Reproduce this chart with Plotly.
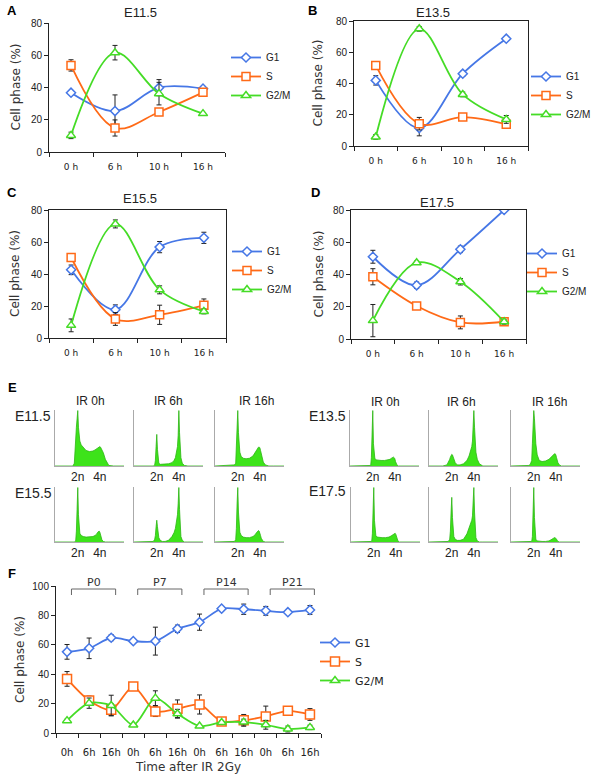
import plotly.graph_objects as go

W, H = 600, 778

# ---------------- data ----------------
TIMES = ['0 h', '6 h', '10 h', '16 h']
PHASES = ['G1', 'S', 'G2/M']

A_G1 = [36.8, 25.4, 39.9, 39.3]
A_G1_ERR = [0, 10, 5, 0]
A_S = [53.7, 14.9, 24.8, 37.0]
A_S_ERR = [3.5, 5, 0, 0]
A_G2M = [10.3, 61.6, 36.2, 23.8]
A_G2M_ERR = [2, 4.5, 7, 0]

B_G1 = [42.0, 11.5, 46.3, 68.7]
B_G1_ERR = [3, 5, 1.5, 1]
B_S = [51.6, 14.3, 18.5, 13.9]
B_S_ERR = [2, 4, 1, 2]
B_G2M = [5.8, 75.0, 33.0, 17.0]
B_G2M_ERR = [1.5, 1.5, 1.5, 2.5]

C_G1 = [42.6, 17.7, 56.8, 62.6]
C_G1_ERR = [3, 3, 3.5, 3.5]
C_S = [50.3, 11.9, 14.5, 20.4]
C_S_ERR = [1.5, 4, 6, 4]
C_G2M = [7.9, 71.3, 30.1, 16.6]
C_G2M_ERR = [4, 2.5, 2.5, 1.5]

D_G1 = [51.0, 33.3, 55.6, 80.0]
D_G1_ERR = [4, 2, 2, 1]
D_S = [38.6, 20.5, 10.3, 10.7]
D_S_ERR = [5, 1, 4, 1]
D_G2M = [11.4, 47.3, 35.5, 10.7]
D_G2M_ERR = [10, 1, 2, 1.5]

# panel F
F_GROUPS = ['P0', 'P7', 'P14', 'P21']
F_TIMES = ['0h', '6h', '16h']
F_G1 = [55.2, 57.6, 64.8, 62.5, 62.5, 70.9, 75.4, 84.6, 84.2, 83.1, 82.2, 83.7]
F_G1_ERR = [5, 7, 2, 1, 9.5, 2.5, 5.5, 1, 3.5, 3, 1, 3]
F_S = [36.8, 22.1, 15.8, 31.6, 14.7, 16.5, 19.4, 7.9, 8.6, 11.3, 15.1, 12.6]
F_S_ERR = [5, 3, 4, 1, 3.5, 6, 6.5, 1, 4, 7, 1, 4]
F_G2M = [8.4, 20.3, 18.7, 5.4, 23.7, 13.1, 4.7, 7.2, 7.4, 5.6, 2.7, 3.8]
F_G2M_ERR = [1, 3.5, 7, 1, 5, 3, 1, 1, 2, 3, 2, 1.5]

# panel E: DNA-content histograms (channel, relative count)
CH = [0, 20, 26, 28, 30, 31, 32, 33, 34, 35, 36, 38, 41, 45, 50, 55, 58, 60,
      62, 63, 64, 65, 66, 67, 68, 70, 73, 78, 85, 100]
HIST_E11_0 = [0, 0, 0, 5, 66, 70, 85, 100, 70, 52, 45, 38, 33, 28, 26, 27, 29, 31,
              33, 34, 35, 35, 34, 32, 30, 24, 12, 1, 0, 0]
HIST_E11_6 = [0, 0, 0, 0, 2, 10, 35, 57, 30, 10, 5, 3, 3, 3, 4, 6, 10, 15,
              25, 35, 55, 100, 60, 30, 15, 5, 1, 0, 0, 0]
HIST_E11_16 = [0, 1, 1, 2, 5, 30, 70, 100, 60, 35, 25, 17, 14, 13, 14, 18, 24, 30,
               33, 34, 34, 33, 28, 22, 15, 7, 2, 0, 0, 0]
HIST_E15_0 = [0, 0, 0, 0, 2, 20, 60, 100, 50, 25, 16, 12, 10, 9, 9, 10, 12, 14,
              18, 20, 20, 18, 12, 7, 4, 1, 0, 0, 0, 0]
HIST_E15_6 = [0, 0, 0, 1, 5, 12, 28, 40, 28, 15, 8, 3, 1, 1, 3, 10, 17, 25,
              38, 50, 70, 100, 60, 25, 10, 3, 0, 0, 0, 0]
HIST_E15_16 = [0, 0, 0, 1, 4, 25, 70, 100, 55, 28, 18, 12, 9, 8, 8, 10, 13, 17,
               20, 21, 20, 17, 12, 7, 4, 1, 0, 0, 0, 0]
HIST_E13_0 = [0, 0, 0, 0, 1, 15, 55, 100, 40, 20, 14, 11, 10, 10, 10, 11, 12, 14,
              16, 16, 15, 13, 8, 4, 2, 0, 0, 0, 0, 0]
HIST_E13_6 = [0, 0, 2, 6, 12, 16, 19, 21, 20, 16, 12, 6, 2, 2, 4, 10, 18, 25,
              35, 45, 65, 100, 70, 40, 25, 12, 4, 0, 0, 0]
HIST_E13_16 = [0, 0, 1, 3, 10, 40, 85, 100, 85, 60, 40, 20, 10, 8, 9, 12, 16, 19,
               21, 22, 22, 20, 15, 10, 6, 2, 0, 0, 0, 0]
HIST_E17_0 = [0, 0, 0, 0, 1, 15, 55, 100, 40, 18, 12, 9, 8, 8, 8, 9, 11, 13,
              15, 16, 16, 14, 9, 5, 2, 0, 0, 0, 0, 0]
HIST_E17_6 = [0, 0, 0, 1, 5, 20, 55, 82, 45, 20, 10, 5, 3, 3, 5, 15, 25, 32,
              40, 48, 65, 100, 55, 20, 8, 2, 0, 0, 0, 0]
HIST_E17_16 = [0, 0, 0, 0, 1, 10, 50, 100, 45, 15, 5, 2, 1, 1, 1, 2, 4, 6,
               8, 8, 8, 7, 5, 3, 1, 0, 0, 0, 0, 0]
PLOIDY_CH = [33, 65]
PLOIDY_LABELS = ['2n', '4n']
E_STAGES_LEFT = ['E11.5', 'E15.5']
E_STAGES_RIGHT = ['E13.5', 'E17.5']
IR_HEADERS = ['IR 0h', 'IR 6h', 'IR 16h']

# ---------------- styling ----------------
COL_G1, COL_S, COL_G2M = '#4677e6', '#ff6a17', '#45dc26'
COLORS = [COL_G1, COL_S, COL_G2M]
SYMBOLS = ['diamond', 'square', 'triangle-up']
SIZES_SMALL = [7, 8, 8]
SIZES_F = [7, 9, 8]
HIST_FILL = '#3de31a'
HIST_LINE = '#2cb514'
ARIAL = 'Liberation Sans, Arial, sans-serif'
VERD = 'DejaVu Sans, Verdana, sans-serif'


def px(x):
    return x / W


def py(y):
    return 1 - y / H


fig = go.Figure()
layout = {}
annotations = []
shapes = []


def ref(prefix, n):
    return prefix if n == 1 else f'{prefix}{n}'


def label(text, x, y, size, family=ARIAL, color='#222', angle=0, xref='paper'):
    annotations.append(dict(text=text, x=x, y=y, xref=xref, yref='paper',
                            xanchor='center', yanchor='middle', showarrow=False,
                            textangle=angle, font=dict(family=family, size=size, color=color)))


# ---------------- panels A-D ----------------
panels = [
    dict(n=1, title='E11.5', letter='A', series=[A_G1, A_S, A_G2M],
         errs=[A_G1_ERR, A_S_ERR, A_G2M_ERR], box=(49, 225, 23, 152), mirror=False,
         title_xy=(140, 13), letter_xy=(12, 11), ylab_x=15, legend=(226, 43)),
    dict(n=2, title='E13.5', letter='B', series=[B_G1, B_S, B_G2M],
         errs=[B_G1_ERR, B_S_ERR, B_G2M_ERR], box=(354, 528, 21, 146), mirror=True,
         title_xy=(433, 12), letter_xy=(313, 10), ylab_x=318, legend=(526, 62)),
    dict(n=3, title='E15.5', letter='C', series=[C_G1, C_S, C_G2M],
         errs=[C_G1_ERR, C_S_ERR, C_G2M_ERR], box=(49, 226, 210, 338), mirror=True,
         title_xy=(140, 199), letter_xy=(12, 193), ylab_x=15, legend=(227, 237)),
    dict(n=4, title='E17.5', letter='D', series=[D_G1, D_S, D_G2M],
         errs=[D_G1_ERR, D_S_ERR, D_G2M_ERR], box=(351, 526, 210, 339), mirror=True,
         title_xy=(437, 202), letter_xy=(316, 193), ylab_x=318, legend=(522, 239)),
]

for p in panels:
    n = p['n']
    lg = 'legend' if n == 1 else f'legend{n}'
    for i, name in enumerate(PHASES):
        fig.add_trace(go.Scatter(
            x=TIMES, y=p['series'][i], name=name, mode='lines+markers',
            xaxis=ref('x', n), yaxis=ref('y', n), legend=lg,
            line=dict(color=COLORS[i], width=1.8, shape='spline', smoothing=1.0),
            marker=dict(symbol=SYMBOLS[i], size=SIZES_SMALL[i], color='white',
                        line=dict(color=COLORS[i], width=1.5)),
            error_y=dict(type='data', array=p['errs'][i], color='#222',
                         thickness=1, width=2.5),
        ))
    x0, x1, y0, y1 = p['box']
    layout[ref('xaxis', n)] = dict(
        domain=[px(x0), px(x1)], anchor=ref('y', n), type='category',
        tickson='boundaries', ticks='outside', ticklen=4, tickcolor='#222',
        showline=True, linecolor='#222', linewidth=1, mirror=p['mirror'],
        showgrid=False, zeroline=False, range=[-0.5, 3.5], automargin=False,
        tickfont=dict(family=VERD, size=9, color='#222'), ticklabelstandoff=6,
    )
    layout[ref('yaxis', n)] = dict(
        domain=[py(y1), py(y0)], anchor=ref('x', n), range=[0, 80],
        tickvals=[0, 20, 40, 60, 80], ticks='outside', ticklen=4, tickcolor='#222',
        showline=True, linecolor='#222', linewidth=1, mirror=p['mirror'],
        showgrid=False, zeroline=False, automargin=False,
        tickfont=dict(family=ARIAL, size=10, color='#222'),
    )
    lx, ly = p['legend']
    layout[lg] = dict(x=px(lx), y=py(ly), xanchor='left', yanchor='top',
                      bgcolor='rgba(0,0,0,0)', itemwidth=30,
                      font=dict(family=ARIAL, size=10, color='#222'),
                      tracegroupgap=0)
    label(p['title'], px(p['title_xy'][0]), py(p['title_xy'][1]), 13)
    label('<b>' + p['letter'] + '</b>', px(p['letter_xy'][0]), py(p['letter_xy'][1]), 13,
          color='black')
    label('Cell phase (%)', px(p['ylab_x']), py((y0 + y1) / 2), 12, family=VERD,
          color='#333', angle=-90)

# ---------------- panel E ----------------
hists = [
    (HIST_E11_0, 55, 410, 466), (HIST_E11_6, 134, 410, 466), (HIST_E11_16, 215, 410, 466),
    (HIST_E15_0, 55, 487, 542), (HIST_E15_6, 134, 487, 542), (HIST_E15_16, 215, 487, 542),
    (HIST_E13_0, 350, 410, 466), (HIST_E13_6, 429, 410, 466), (HIST_E13_16, 511, 410, 466),
    (HIST_E17_0, 351, 487, 542), (HIST_E17_6, 429, 487, 542), (HIST_E17_16, 511, 487, 542),
]
n = 6
for hv, left, top, bot in hists:
    fig.add_trace(go.Scatter(
        x=CH, y=hv, mode='lines', fill='tozeroy', fillcolor=HIST_FILL,
        line=dict(color=HIST_LINE, width=0.8), showlegend=False,
        xaxis=ref('x', n), yaxis=ref('y', n), hoverinfo='skip',
    ))
    layout[ref('xaxis', n)] = dict(
        domain=[px(left), px(left + 69)], anchor=ref('y', n), range=[0, 100],
        showline=True, linecolor='#aaa', linewidth=1, showgrid=False, zeroline=False,
        tickvals=PLOIDY_CH, ticktext=PLOIDY_LABELS, ticks='', automargin=False,
        tickfont=dict(family=ARIAL, size=12, color='#222'), ticklabelstandoff=0,
    )
    layout[ref('yaxis', n)] = dict(
        domain=[py(bot), py(top)], anchor=ref('x', n), range=[0, 101],
        showline=True, linecolor='#aaa', linewidth=1, showgrid=False, zeroline=False,
        showticklabels=False, ticks='', automargin=False,
    )
    n += 1

label('<b>E</b>', px(12), py(387), 13, color='black')
for lab, yy in zip(E_STAGES_LEFT, [416, 493]):
    label(lab, px(33), py(yy), 14)
for lab, yy in zip(E_STAGES_RIGHT, [416, 491]):
    label(lab, px(327), py(yy), 14)
for lab, xx in zip(IR_HEADERS, [90, 168, 256]):
    label(lab, px(xx), py(401), 12)
for lab, xx in zip(IR_HEADERS, [385, 461, 549]):
    label(lab, px(xx), py(402), 12)

# ---------------- panel F ----------------
nF = 5
fx = list(range(len(F_G1)))
f_labels = [t for _ in F_GROUPS for t in F_TIMES]
for i, (name, vals, err) in enumerate(zip(PHASES, [F_G1, F_S, F_G2M],
                                          [F_G1_ERR, F_S_ERR, F_G2M_ERR])):
    fig.add_trace(go.Scatter(
        x=fx, y=vals, name=name, mode='lines+markers',
        xaxis=ref('x', nF), yaxis=ref('y', nF), legend='legend5',
        line=dict(color=COLORS[i], width=1.8, shape='spline', smoothing=0.8),
        marker=dict(symbol=SYMBOLS[i], size=SIZES_F[i], color='white',
                    line=dict(color=COLORS[i], width=1.5)),
        error_y=dict(type='data', array=err, color='#222', thickness=1, width=2.5),
    ))
layout['xaxis5'] = dict(
    domain=[px(56), px(321)], anchor='y5', range=[-0.5, len(fx) - 0.5],
    tickvals=fx, ticktext=f_labels, ticks='', automargin=False,
    minor=dict(tick0=-0.5, dtick=1, ticks='outside', ticklen=4, tickcolor='#222'),
    showline=True, linecolor='#222', linewidth=1, showgrid=False, zeroline=False,
    tickfont=dict(family=VERD, size=10, color='#222'), ticklabelstandoff=10,
    title=dict(text='Time after IR 2Gy', font=dict(family=VERD, size=12, color='#333'),
               standoff=5),
)
layout['yaxis5'] = dict(
    domain=[py(733), py(586)], anchor='x5', range=[0, 100], automargin=False,
    tickvals=[0, 20, 40, 60, 80, 100], ticks='outside', ticklen=4, tickcolor='#222',
    showline=True, linecolor='#222', linewidth=1, showgrid=False, zeroline=False,
    tickfont=dict(family=ARIAL, size=10, color='#222'),
)
layout['legend5'] = dict(x=px(315), y=py(628), xanchor='left', yanchor='top',
                         bgcolor='rgba(0,0,0,0)', itemwidth=30,
                         font=dict(family=VERD, size=11, color='#222'), tracegroupgap=0)
label('Cell phase (%)', px(20), py(660), 12, family=VERD, color='#333', angle=-90)
label('<b>F</b>', px(12), py(573), 13, color='black')
for g, lab in enumerate(F_GROUPS):
    xs = g * len(F_TIMES) + 0.2
    xe = g * len(F_TIMES) + len(F_TIMES) - 1 + 0.2
    shapes.append(dict(type='path', xref='x5', yref='paper',
                       path=f'M {xs},{py(595)} L {xs},{py(589)} L {xe},{py(589)} L {xe},{py(595)}',
                       line=dict(color='#666', width=1)))
    label(lab, (xs + xe) / 2, py(582), 11, family=VERD, color='#333', xref='x5')

fig.update_layout(
    width=W, height=H, margin=dict(l=0, r=0, t=0, b=0),
    paper_bgcolor='white', plot_bgcolor='white',
    annotations=annotations, shapes=shapes, **layout,
)
# remove the page's default 8px body margin so the figure sits at the window origin
fig.write_html('out.html', config={'displayModeBar': False},
               post_script="document.body.style.margin='0';document.body.style.overflow='hidden';")
